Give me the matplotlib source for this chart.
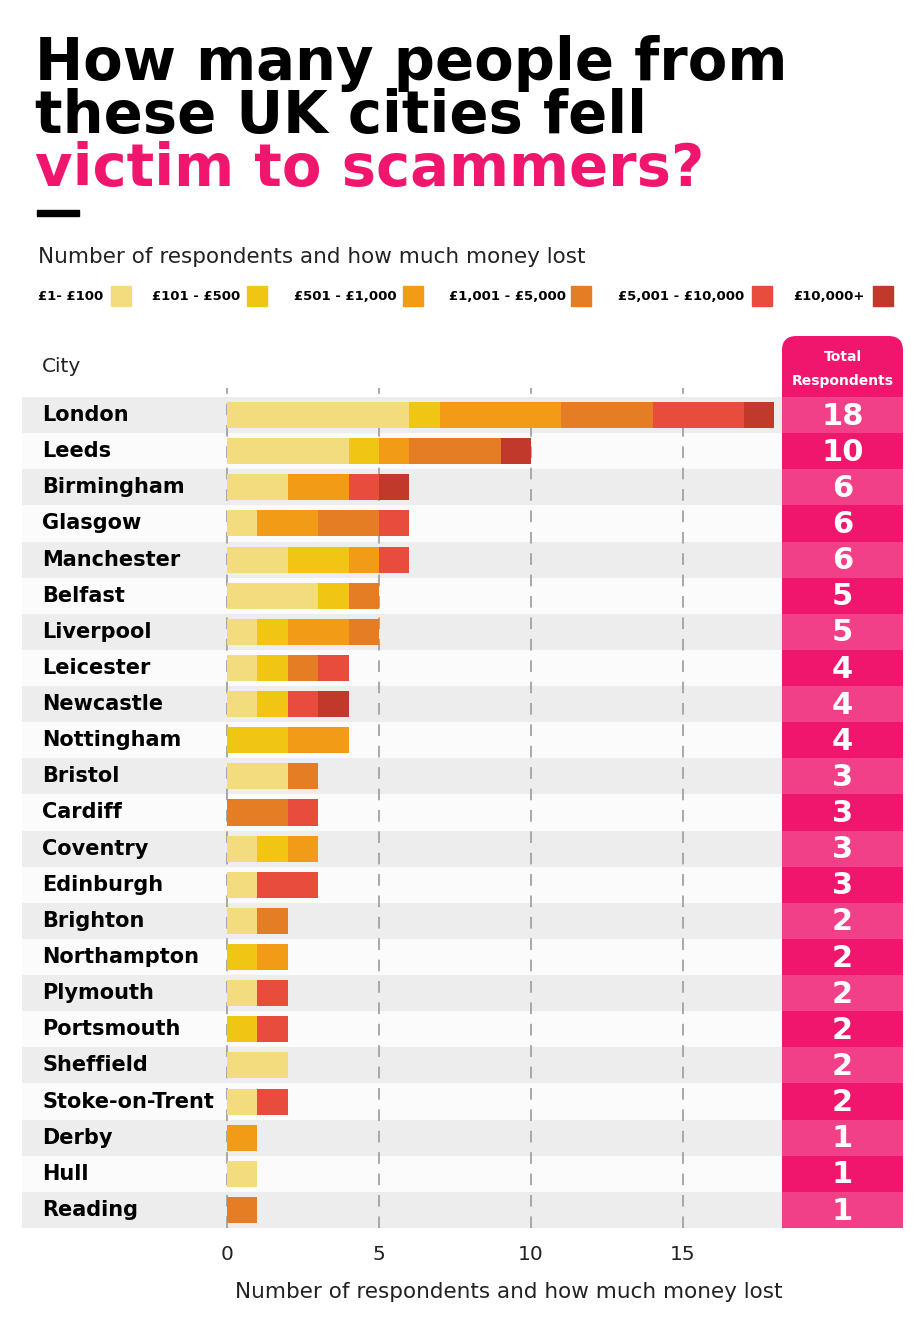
import numpy as np
import matplotlib
matplotlib.use('Agg')
import matplotlib.pyplot as plt
from matplotlib.patches import FancyBboxPatch, Rectangle
from matplotlib.transforms import blended_transform_factory

cities = ["London", "Leeds", "Birmingham", "Glasgow", "Manchester", "Belfast",
          "Liverpool", "Leicester", "Newcastle", "Nottingham", "Bristol", "Cardiff",
          "Coventry", "Edinburgh", "Brighton", "Northampton", "Plymouth", "Portsmouth",
          "Sheffield", "Stoke-on-Trent", "Derby", "Hull", "Reading"]

lost_1_100 = [6, 4, 2, 1, 2, 3, 1, 1, 1, 0, 2, 0, 1, 1, 1, 0, 1, 0, 2, 1, 0, 1, 0]
lost_101_500 = [1, 1, 0, 0, 2, 1, 1, 1, 1, 2, 0, 0, 1, 0, 0, 1, 0, 1, 0, 0, 0, 0, 0]
lost_501_1000 = [4, 1, 2, 2, 1, 0, 2, 0, 0, 2, 0, 0, 1, 0, 0, 1, 0, 0, 0, 0, 1, 0, 0]
lost_1001_5000 = [3, 3, 0, 2, 0, 1, 1, 1, 0, 0, 1, 2, 0, 0, 1, 0, 0, 0, 0, 0, 0, 0, 1]
lost_5001_10000 = [3, 0, 1, 1, 1, 0, 0, 1, 1, 0, 0, 1, 0, 2, 0, 0, 1, 1, 0, 1, 0, 0, 0]
lost_10000_plus = [1, 1, 1, 0, 0, 0, 0, 0, 1, 0, 0, 0, 0, 0, 0, 0, 0, 0, 0, 0, 0, 0, 0]

bands = ["£1- £100", "£101 - £500", "£501 - £1,000", "£1,001 - £5,000",
         "£5,001 - £10,000", "£10,000+"]
series = [lost_1_100, lost_101_500, lost_501_1000, lost_1001_5000,
          lost_5001_10000, lost_10000_plus]
colors = ["#F3DC7E", "#F0C514", "#F29B16", "#E57D24", "#E84C3D", "#C0392B"]
xticks = [0, 5, 10, 15]

PINK = "#F0166E"
PINK_LIGHT = "#F13F88"

W, H = 918, 1325
fig = plt.figure(figsize=(W / 100, H / 100), dpi=100)
fig.patch.set_facecolor("white")


def fx(px):
    return px / W


def fy(py):
    return 1 - py / H


# --- title block ---
title_kw = dict(fontsize=41.5, fontweight="bold", va="baseline", ha="left")
fig.text(fx(35), fy(80), "How many people from", color="black", **title_kw)
fig.text(fx(35), fy(133), "these UK cities fell", color="black", **title_kw)
fig.text(fx(35), fy(186), "victim to scammers?", color=PINK, **title_kw)
fig.patches.append(Rectangle((fx(37), fy(216)), fx(79) - fx(37), fy(210) - fy(216),
                             transform=fig.transFigure, color="black"))

fig.text(fx(38), fy(257), "Number of respondents and how much money lost",
         fontsize=15.5, color="#222222", va="center", ha="left")

# legend
leg_text_x = [38, 152, 294, 449, 618, 793]
leg_box_x = [111, 247, 403, 571, 752, 873]
for lab, c, tx, bx in zip(bands, colors, leg_text_x, leg_box_x):
    fig.text(fx(tx), fy(296), lab, fontsize=9.5, fontweight="bold", color="black",
             va="center", ha="left")
    fig.patches.append(Rectangle((fx(bx), fy(306)), fx(20), fy(286) - fy(306),
                                 transform=fig.transFigure, color=c))

# --- main chart ---
top_px, bot_px = 397, 1228
left_px, right_px = 22, 782
px_per_unit = 30.4
zero_px = 227
ax = fig.add_axes([fx(left_px), fy(bot_px), fx(right_px - left_px), fy(top_px) - fy(bot_px)])
n = len(cities)
y = np.arange(n)
ax.set_ylim(n - 0.5, -0.5)
ax.set_xlim((left_px - zero_px) / px_per_unit, (right_px - zero_px) / px_per_unit)

for i in range(n):
    ax.axhspan(i - 0.5, i + 0.5, color="#EDEDED" if i % 2 == 0 else "#FBFBFB", zorder=0, lw=0)

row_px = (bot_px - top_px) / n
ax.vlines(xticks, n - 0.5, -0.5 - 9 / row_px, colors="#A8A8A8", linestyles=(0, (6, 5)),
          lw=1.4, zorder=1, clip_on=False)

left = np.zeros(n)
for vals, c in zip(series, colors):
    vals = np.array(vals)
    ax.barh(y, vals, left=left, height=0.72, color=c, zorder=2, lw=0)
    left += vals

trans = blended_transform_factory(ax.transAxes, ax.transData)
for i, city in enumerate(cities):
    ax.text(20 / (right_px - left_px), i, city, transform=trans, fontsize=15,
            fontweight="bold", color="black", va="center", ha="left")

ax.text(20 / (right_px - left_px), -0.5 - 31 / row_px, "City", transform=trans,
        fontsize=14.5, color="#222222", va="center", ha="left")

ax.set_xticks(xticks)
ax.set_xticklabels([str(t) for t in xticks], fontsize=14.5, color="#222222")
ax.tick_params(axis="x", length=0, pad=12)
ax.set_yticks([])
ax.set_xlabel("Number of respondents and how much money lost", fontsize=15.5,
              color="#222222")
ax.xaxis.set_label_coords((509 - left_px) / (right_px - left_px),
                          -(1292 - bot_px) / (bot_px - top_px))
ax.xaxis.label.set_va("center")
for s in ax.spines.values():
    s.set_visible(False)

# --- total respondents column ---
head_px = 336
ax2 = fig.add_axes([fx(782), fy(bot_px), fx(903 - 782), fy(head_px) - fy(bot_px)])
y_top = -0.5 - (top_px - head_px) / row_px
ax2.set_ylim(n - 0.5, y_top)
ax2.set_xlim(0, 1)
ax2.axis("off")
aspect = (1 / row_px) / (1 / 121)
head = FancyBboxPatch((0, y_top), 1, (top_px - head_px) / row_px + 0.5,
                      boxstyle="round,pad=0,rounding_size=0.12",
                      mutation_aspect=aspect, color=PINK, lw=0, zorder=1)
ax2.add_patch(head)
ax2.text(0.5, -0.5 - 40 / row_px, "Total", fontsize=10, fontweight="bold", color="white",
         ha="center", va="center", zorder=3)
ax2.text(0.5, -0.5 - 16 / row_px, "Respondents", fontsize=10, fontweight="bold",
         color="white", ha="center", va="center", zorder=3)

totals = left.astype(int)
ax2.barh(y, 1, height=1.0, left=0,
         color=[PINK_LIGHT if i % 2 == 0 else PINK for i in range(n)], lw=0, zorder=2)
for i, t in enumerate(totals):
    ax2.text(0.5, i + 0.03, str(t), fontsize=22, fontweight="bold", color="white",
             ha="center", va="center", zorder=3)

fig.savefig("out.png", dpi=100, facecolor="white")
